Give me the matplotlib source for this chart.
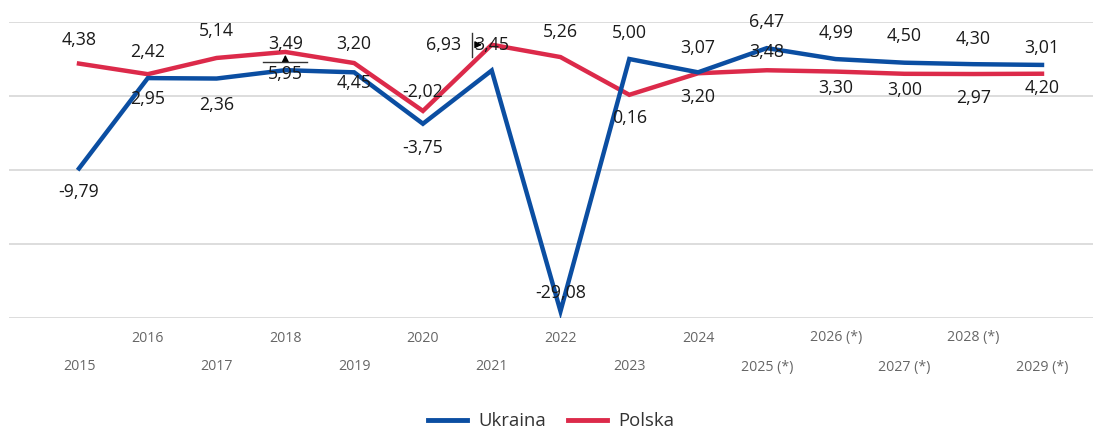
import matplotlib
matplotlib.use('Agg')
from matplotlib import pyplot as plt
from matplotlib.transforms import blended_transform_factory
from matplotlib.lines import Line2D

years = ['2015', '2016', '2017', '2018', '2019', '2020', '2021', '2022',
         '2023', '2024', '2025 (*)', '2026 (*)', '2027 (*)', '2028 (*)', '2029 (*)']
ukraina = [-9.79, 2.42, 2.36, 3.49, 3.20, -3.75, 3.45, -29.08,
           5.00, 3.20, 6.47, 4.99, 4.50, 4.30, 4.20]
polska = [4.38, 2.95, 5.14, 5.95, 4.45, -2.02, 6.93, 5.26,
          0.16, 3.07, 3.48, 3.30, 3.00, 2.97, 3.01]

BLUE = '#0b4ea2'
RED = '#dc2a4a'

# label placement: (year index, series, dx px, dy px)
label_pos = [
    (0, 'PL', 0, -24), (0, 'UA', 0, 24),
    (1, 'UA', 0, -26), (1, 'PL', 0, 25),
    (2, 'PL', 0, -27), (2, 'UA', 0, 26),
    (3, 'UA', 0, -26), (3, 'PL', 0, 22),
    (4, 'UA', 0, -28), (4, 'PL', 0, 20),
    (5, 'PL', 0, -19), (5, 'UA', 0, 24),
    (6, 'PL', -48, 0), (6, 'UA', 0, -25),
    (7, 'PL', 0, -25), (7, 'UA', 0, -18),
    (8, 'UA', 0, -26), (8, 'PL', 0, 23),
    (9, 'PL', 0, -25), (9, 'UA', 0, 25),
    (10, 'UA', 0, -26), (10, 'PL', 0, -18),
    (11, 'UA', 0, -26), (11, 'PL', 0, 16),
    (12, 'UA', 0, -27), (12, 'PL', 0, 16),
    (13, 'UA', 0, -25), (13, 'PL', 0, 24),
    (14, 'PL', 0, -26), (14, 'UA', 0, 23),
]

plt.rcParams['font.family'] = ['Open Sans', 'DejaVu Sans']

W, H = 1093, 429
fig = plt.figure(figsize=(W / 100, H / 100), dpi=100)
ax = fig.add_axes([9 / W, (H - 318) / H, (1093 - 9) / W, (318 - 22) / H])

x = list(range(len(years)))
ax.plot(x, polska, color=RED, lw=3.2, solid_joinstyle='miter', zorder=3)
ax.plot(x, ukraina, color=BLUE, lw=3.2, solid_joinstyle='miter', zorder=4)

step = (1042 - 79) / 14
ax.set_xlim(-(79 - 9) / step, 14 + (1093 - 1042) / step)
ax.set_ylim(-30, 10)
ax.set_yticks([-30, -20, -10, 0, 10])
ax.yaxis.grid(True, color='#dadada', lw=1.3)
ax.set_axisbelow(True)
for s in ax.spines.values():
    s.set_visible(False)
ax.tick_params(left=False, labelleft=False, bottom=False, labelbottom=False)

# staggered year labels
tr = blended_transform_factory(ax.transData, ax.transAxes)
for i, yr in enumerate(years):
    yoff = -20 if i % 2 == 1 else -49
    ax.annotate(yr, xy=(i, 0), xycoords=tr, xytext=(0, yoff), textcoords='offset pixels',
                ha='center', va='center', fontsize=10.2, color='#666666', annotation_clip=False)

series = {'UA': ukraina, 'PL': polska}
for i, key, dx, dy in label_pos:
    v = series[key][i]
    txt = f'{v:.2f}'.replace('.', ',')
    ax.annotate(txt, xy=(i, v), xytext=(dx, -dy), textcoords='offset pixels',
                ha='center', va='center', fontsize=12.8, color='#1a1a1a', zorder=6,
                annotation_clip=False)

# leader marks seen in the original
ax.annotate('', xy=(3, polska[3]), xytext=(0, -10), textcoords='offset pixels',
            arrowprops=dict(arrowstyle='-|>', color='black', lw=1, mutation_scale=10), zorder=7)
ax.plot([3 - 0.32, 3 + 0.32], [polska[3] - 1.35, polska[3] - 1.35], color='#333333', lw=1, zorder=7)
ax.plot([5.72, 5.72], [polska[6] + 1.6, polska[6] - 1.6], color='#333333', lw=1, zorder=7)
ax.annotate('', xy=(6 - 0.1, polska[6]), xytext=(5.76, polska[6]),
            arrowprops=dict(arrowstyle='-|>', color='black', lw=1, mutation_scale=10), zorder=7)

handles = [Line2D([], [], color=BLUE, lw=3.5), Line2D([], [], color=RED, lw=3.5)]
fig.legend(handles, ['Ukraina', 'Polska'], loc='center', bbox_to_anchor=(551 / W, 1 - 421 / H),
           ncol=2, frameon=False, fontsize=13.3, handlelength=2.1, columnspacing=1.2,
           handletextpad=0.6, labelcolor='#333333')

fig.savefig('out.png', dpi=100)
